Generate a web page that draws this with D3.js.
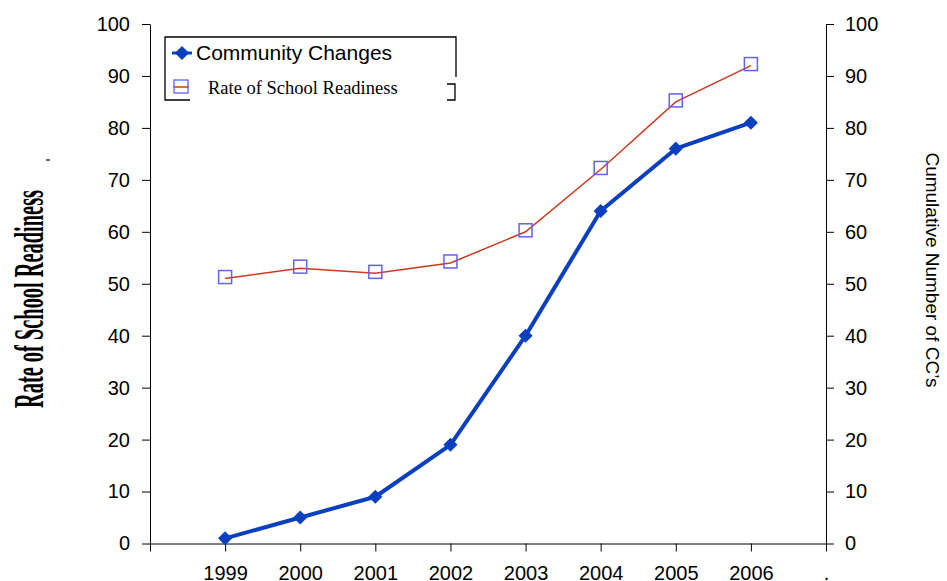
<!DOCTYPE html>
<meta charset="utf-8">
<script src="https://d3js.org/d3.v7.min.js"></script>
<style>
  body { margin: 0; background: #fff; }
  text { font-family: "Liberation Sans", Arial, sans-serif; }
</style>
<div id="chart"></div>
<script>
  // data
  var years = [1999, 2000, 2001, 2002, 2003, 2004, 2005, 2006];
  var communityChanges = [1, 5, 9, 19, 40, 64, 76, 81];
  var schoolReadiness = [51, 53, 52, 54, 60, 72, 85, 92];
  var yTicks = [0, 10, 20, 30, 40, 50, 60, 70, 80, 90, 100];
  var xTicks = [1998, 1999, 2000, 2001, 2002, 2003, 2004, 2005, 2006, 2007];

  var W = 947, H = 581;
  var plotLeft = 150, plotRight = 826, plotTop = 24, plotBottom = 543.5;

  var svg = d3.select("#chart").append("svg")
    .attr("width", W).attr("height", H);

  var x = d3.scaleLinear().domain([1998, 2007]).range([plotLeft, plotRight]);
  var yL = d3.scaleLinear().domain([0, 100]).range([plotBottom, plotTop]);
  var yR = d3.scaleLinear().domain([0, 100]).range([plotBottom, plotTop]);

  // axes
  var gx = svg.append("g")
    .attr("transform", "translate(0," + plotBottom + ")")
    .call(d3.axisBottom(x).tickValues(xTicks).tickSize(8).tickSizeOuter(0).tickPadding(14)
      .tickFormat(function(d) { return d == 1998 ? "" : d == 2007 ? "." : d; }));

  var gl = svg.append("g")
    .attr("transform", "translate(" + plotLeft + ",0)")
    .call(d3.axisLeft(yL).tickValues(yTicks).tickSize(8).tickSizeOuter(0).tickPadding(12));

  var gr = svg.append("g")
    .attr("transform", "translate(" + plotRight + ",0)")
    .call(d3.axisRight(yR).tickValues(yTicks).tickSize(8).tickSizeOuter(0).tickPadding(11));

  [gx, gl, gr].forEach(function(g) {
    g.selectAll("text").style("font-size", "20px").attr("fill", "#000")
      .style("font-family", "'Liberation Sans', Arial, sans-serif");
    g.selectAll("line").attr("stroke", "#000");
    g.select(".domain").attr("stroke", "#000");
  });

  // rate of school readiness: thin red line + hollow squares
  var redLine = d3.line()
    .x(function(d, i) { return x(years[i]); })
    .y(function(d) { return yL(d); });

  svg.append("path")
    .datum(schoolReadiness)
    .attr("d", redLine)
    .attr("fill", "none")
    .attr("stroke", "#cc3a1e")
    .attr("stroke-width", 1.5);

  svg.selectAll(".sq")
    .data(schoolReadiness)
    .enter().append("rect")
      .attr("class", "sq")
      .attr("x", function(d, i) { return x(years[i]) - 6.5; })
      .attr("y", function(d) { return yL(d) - 8; })
      .attr("width", 13)
      .attr("height", 13)
      .attr("fill", "none")
      .attr("stroke", "#6262ee")
      .attr("stroke-width", 1.5);

  // community changes: thick blue line + diamonds
  var blueLine = d3.line()
    .x(function(d, i) { return x(years[i]); })
    .y(function(d) { return yR(d); });

  svg.append("path")
    .datum(communityChanges)
    .attr("d", blueLine)
    .attr("fill", "none")
    .attr("stroke", "#0a40c0")
    .attr("stroke-width", 4)
    .attr("stroke-linejoin", "round");

  var diamond = d3.symbol().type(d3.symbolSquare).size(100);
  svg.selectAll(".dm")
    .data(communityChanges)
    .enter().append("path")
      .attr("class", "dm")
      .attr("d", diamond)
      .attr("transform", function(d, i) {
        return "translate(" + x(years[i]) + "," + yR(d) + ") rotate(45)";
      })
      .attr("fill", "#0a40c0");

  // axis titles
  svg.append("text")
    .attr("transform", "translate(43,299) rotate(-90)")
    .attr("text-anchor", "middle")
    .attr("textLength", 218)
    .attr("lengthAdjust", "spacingAndGlyphs")
    .style("font-family", "'Liberation Serif', 'Times New Roman', serif")
    .style("font-weight", "bold")
    .style("font-size", "42px")
    .text("Rate of School Readiness");

  svg.append("path")
    .attr("d", "M46,160H50")
    .attr("stroke", "#000").attr("stroke-width", 1.2);

  svg.append("text")
    .attr("transform", "translate(926,270) rotate(90)")
    .attr("text-anchor", "middle")
    .style("font-size", "19px")
    .text("Cumulative Number of CC\u2019s");

  // legend
  var lg = svg.append("g");
  lg.append("path")
    .attr("d", "M190,100H165V37H456V77 M447,84H455V100H447")
    .attr("fill", "none").attr("stroke", "#000").attr("stroke-width", 1.3);

  lg.append("line")
    .attr("x1", 172).attr("x2", 192).attr("y1", 53).attr("y2", 53)
    .attr("stroke", "#0a40c0").attr("stroke-width", 3);
  lg.append("path")
    .attr("d", diamond)
    .attr("transform", "translate(182,53) rotate(45)")
    .attr("fill", "#0a40c0");
  lg.append("text")
    .attr("x", 196).attr("y", 60)
    .style("font-size", "21px")
    .text("Community Changes");

  lg.append("line")
    .attr("x1", 173).attr("x2", 189).attr("y1", 87).attr("y2", 87)
    .attr("stroke", "#cc3a1e").attr("stroke-width", 1.5);
  lg.append("rect")
    .attr("x", 174).attr("y", 80).attr("width", 14).attr("height", 13)
    .attr("fill", "none").attr("stroke", "#6262ee").attr("stroke-width", 1.3);
  lg.append("text")
    .attr("x", 208).attr("y", 94)
    .style("font-family", "'Liberation Serif', 'Times New Roman', serif")
    .style("font-size", "18.5px")
    .text("Rate of School Readiness");
</script>
